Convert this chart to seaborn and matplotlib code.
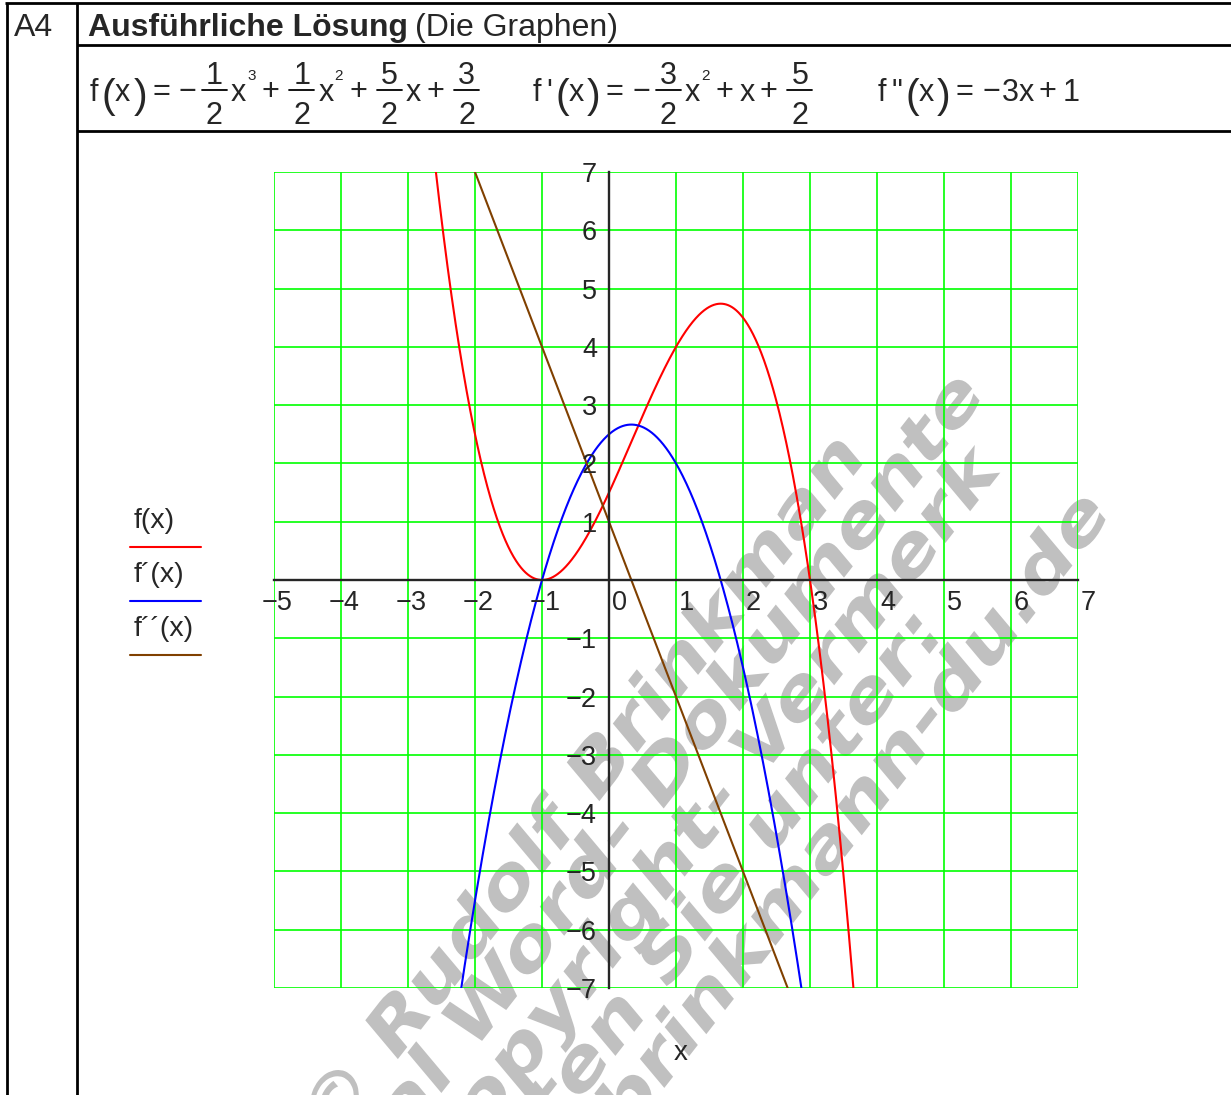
import numpy as np
import pandas as pd
import seaborn as sns
import matplotlib
matplotlib.use("Agg")
import matplotlib.pyplot as plt
from matplotlib.lines import Line2D
from matplotlib.transforms import IdentityTransform, Affine2D
from matplotlib.textpath import TextPath
from matplotlib.patches import PathPatch
from matplotlib.font_manager import FontProperties
from fractions import Fraction

# Polynomial coefficients, highest power first
f_coef = [-0.5, 0.5, 2.5, 1.5]      # f(x)
f1_coef = [-1.5, 1.0, 2.5]          # f'(x)
f2_coef = [-3.0, 1.0]               # f''(x)

curve_names = ["f(x)", "f´(x)", "f´´(x)"]
curve_colors = ["#ff0000", "#0000ff", "#804000"]
x_ticks = list(range(-5, 8))
y_ticks = list(range(-7, 8))
x_range = (-5, 7)
y_range = (-7, 7)

title_bold = "Ausführliche Lösung"
title_rest = "(Die Graphen)"
task_label = "A4"
watermark_lines = [
    "© Rudolf Brinkman",
    "Original Word- Dokumente",
    "Copyright- Vermerk",
    "erhalten Sie unter:",
    "brinkmann-du.de",
]

W, H = 1231, 1095
sns.set_style("white")
plt.rcParams["font.family"] = ["Liberation Sans", "DejaVu Sans"]
plt.rcParams["axes.unicode_minus"] = True

fig = plt.figure(figsize=(W / 100, H / 100), dpi=100)
fig.patch.set_facecolor("white")
IT = IdentityTransform()
renderer = fig.canvas.get_renderer()


def P(x, y):
    """Pixel position measured from the top-left corner -> display coords."""
    return x, H - y


def text_px(x, y, s, **kw):
    return fig.text(*P(x, y), s, transform=IT, **kw)


def width_of(t):
    return t.get_window_extent(renderer=renderer).width


# ---------------- worksheet frame ----------------
frame_kw = dict(color="black", lw=2.0, transform=IT, solid_capstyle="butt")
for (x0, y0, x1, y1) in [(5, 2.5, W, 2.5), (6.5, 2.5, 6.5, H), (76.5, 2.5, 76.5, H),
                         (76.5, 44.5, W, 44.5), (76.5, 130.5, W, 130.5)]:
    fig.add_artist(Line2D([P(x0, y0)[0], P(x1, y1)[0]], [P(x0, y0)[1], P(x1, y1)[1]], **frame_kw))

text_px(14, 36, task_label, fontsize=23, ha="left", va="baseline")
tb = text_px(88, 36, title_bold, fontsize=23, fontweight="bold", ha="left", va="baseline")
text_px(88 + width_of(tb) + 7, 36, title_rest, fontsize=23, ha="left", va="baseline")


# ---------------- formula row ----------------
def poly_tokens(name, primes, coefs):
    toks = [("t", name)]
    if primes:
        toks.append(("pr", primes))
    toks += [("par", "("), ("t", "x"), ("par", ")"), ("op", "=")]
    deg = len(coefs) - 1
    first = True
    for i, c in enumerate(coefs):
        p = deg - i
        if c == 0:
            continue
        if first:
            if c < 0:
                toks.append(("sg", "−"))
        else:
            toks.append(("op", "−" if c < 0 else "+"))
        mag = Fraction(abs(c)).limit_denominator(10)
        if mag.denominator > 1:
            toks.append(("fr", str(mag.numerator), str(mag.denominator)))
        elif mag != 1 or p == 0:
            toks.append(("t", str(mag.numerator)))
        if p >= 1:
            toks.append(("t", "x"))
        if p >= 2:
            toks.append(("sup", str(p)))
        first = False
    return toks


def draw_formula(tokens, x0, base, fs=22):
    x = x0
    for kind, *val in tokens:
        if kind == "t":
            t = text_px(x, base, val[0], fontsize=fs, ha="left", va="baseline")
            x += width_of(t)
        elif kind == "pr":
            t = text_px(x + 5, base, val[0], fontsize=fs, ha="left", va="baseline")
            x += width_of(t) + 5
        elif kind == "par":
            t = text_px(x + 3, base + 7, val[0], fontsize=fs * 1.35, ha="left", va="baseline")
            x += width_of(t) + 3
        elif kind == "sup":
            t = text_px(x + 1, base - 21, val[0], fontsize=fs * 0.5, ha="left", va="baseline")
            x += width_of(t) + 2
        elif kind == "op":
            x += 5
            t = text_px(x, base - 1, val[0], fontsize=fs, ha="left", va="baseline")
            x += width_of(t) + 6
        elif kind == "sg":
            x += 3
            t = text_px(x, base - 1, val[0], fontsize=fs, ha="left", va="baseline")
            x += width_of(t) + 1
        elif kind == "fr":
            num = text_px(0, 0, val[0], fontsize=fs, ha="center", va="baseline")
            den = text_px(0, 0, val[1], fontsize=fs, ha="center", va="baseline")
            w = max(width_of(num), width_of(den)) + 8
            x += 4
            cx = x + w / 2
            num.set_position(P(cx, base - 17))
            den.set_position(P(cx, base + 23))
            fig.add_artist(Line2D([x, x + w], [H - (base - 11)] * 2,
                                  color="black", lw=1.3, transform=IT))
            x += w + 4


draw_formula(poly_tokens("f", "", f_coef), 90, 101)
draw_formula(poly_tokens("f", "'", f1_coef), 533, 101)
draw_formula(poly_tokens("f", "\"", f2_coef), 878, 101)


# ---------------- watermark ----------------
wm_font = FontProperties(family="DejaVu Sans", weight="bold")
wm_size, wm_sx, wm_skew, wm_angle = 68, 1.2, 12, 52
wm_ends = [(850, 450), (970, 386), (988, 458), (926, 628), (1096, 505)]
for line, (ex, ey) in zip(watermark_lines, wm_ends):
    tp = TextPath((0, 0), line, size=wm_size, prop=wm_font)
    ext = tp.get_extents()
    xh = 0.55 * wm_size
    tr = (Affine2D().translate(-ext.x1, -xh / 2).scale(wm_sx, 1.0)
          .skew_deg(wm_skew, 0).rotate_deg(wm_angle).translate(*P(ex, ey)))
    patch = PathPatch(tr.transform_path(tp), facecolor="#c0c0c0", edgecolor="none",
                      transform=IT, zorder=-1)
    fig.add_artist(patch)


# ---------------- graph ----------------
ax = fig.add_axes([274 / W, (H - 988) / H, (1078 - 274) / W, (988 - 172) / H])
ax.set_facecolor("none")

xs = np.linspace(x_range[0], x_range[1], 2401)
df = pd.concat([pd.DataFrame({"x": xs, "y": np.polyval(c, xs), "curve": n})
                for c, n in zip([f_coef, f1_coef, f2_coef], curve_names)], ignore_index=True)
sns.lineplot(data=df, x="x", y="y", hue="curve", palette=dict(zip(curve_names, curve_colors)),
             legend=False, ax=ax, lw=1.5, estimator=None, sort=False, zorder=3)

ax.set_xlim(*x_range)
ax.set_ylim(*y_range)
ax.set_xticks(x_ticks)
ax.set_yticks(y_ticks)
ax.grid(True, color="#00ff00", lw=1.2)
for gl in ax.get_xgridlines() + ax.get_ygridlines():
    gl.set_clip_on(False)
ax.set_xlabel("")
ax.set_ylabel("")
for s in ["top", "right"]:
    ax.spines[s].set_visible(False)
ax.spines["left"].set_position(("data", 0))
ax.spines["bottom"].set_position(("data", 0))
for s in ["left", "bottom"]:
    ax.spines[s].set_linewidth(1.7)
    ax.spines[s].set_zorder(4)
ax.tick_params(direction="inout", length=14, width=1.5, color="black",
               labelbottom=False, labelleft=False)

for v in x_ticks:
    lab = f"{v}".replace("-", "−")
    dx = 3 if v >= 0 else -12
    ax.annotate(lab, xy=(v, 0), xytext=(dx, -10), textcoords="offset pixels",
                ha="left", va="top", fontsize=19.5, annotation_clip=False, zorder=5)
for v in y_ticks:
    if v == 0:
        continue
    lab = f"{v}".replace("-", "−")
    ax.annotate(lab, xy=(0, v), xytext=(-12, -3), textcoords="offset pixels",
                ha="right", va="center", fontsize=19.5, annotation_clip=False, zorder=5)

text_px(681, 1053, "x", fontsize=20, ha="center", va="center")

# legend
for i, (name, col) in enumerate(zip(curve_names, curve_colors)):
    y0 = 521 + 54 * i
    text_px(134, y0, name, fontsize=20.5, ha="left", va="center")
    fig.add_artist(Line2D([130, 201], [H - (y0 + 26)] * 2, color=col, lw=1.5, transform=IT))

fig.savefig("out.png", dpi=100)
